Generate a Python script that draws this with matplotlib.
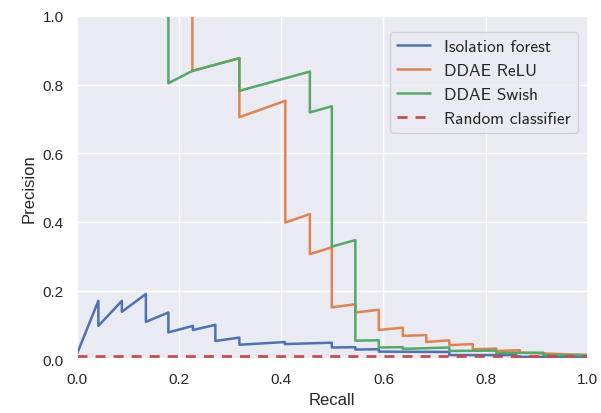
import matplotlib
matplotlib.use("Agg")
import matplotlib.pyplot as plt
import seaborn as sns

sns.set_theme(style="darkgrid")
plt.rcParams['font.family'] = ['Liberation Sans', 'DejaVu Sans']

# Isolation forest
iso_recall = [0.0, 0.042, 0.042, 0.088, 0.088, 0.135, 0.135, 0.179, 0.179, 0.227, 0.227,
              0.271, 0.271, 0.318, 0.318, 0.407, 0.407, 0.499, 0.499, 0.545, 0.545,
              0.591, 0.591, 0.729, 0.729, 0.86, 0.86, 1.0]
iso_prec = [0.015, 0.17, 0.097, 0.17, 0.138, 0.19, 0.109, 0.136, 0.078, 0.097, 0.085,
            0.10, 0.053, 0.063, 0.042, 0.05, 0.044, 0.048, 0.034, 0.035, 0.028,
            0.029, 0.022, 0.021, 0.012, 0.012, 0.007, 0.006]

# DDAE ReLU
relu_recall = [0.226, 0.226, 0.318, 0.318, 0.408, 0.408, 0.456, 0.456, 0.499, 0.499,
               0.545, 0.545, 0.591, 0.591, 0.638, 0.638, 0.684, 0.684, 0.729, 0.729,
               0.775, 0.775, 0.821, 0.821, 0.867, 0.867, 1.0]
relu_prec = [1.0, 0.84, 0.877, 0.705, 0.753, 0.398, 0.423, 0.306, 0.326, 0.151,
             0.160, 0.136, 0.144, 0.085, 0.092, 0.068, 0.070, 0.050, 0.055, 0.041,
             0.044, 0.029, 0.031, 0.024, 0.026, 0.019, 0.012]

# DDAE Swish
swish_recall = [0.179, 0.179, 0.226, 0.318, 0.318, 0.456, 0.456, 0.499, 0.499, 0.545,
                0.545, 0.591, 0.591, 0.638, 0.638, 0.729, 0.729, 0.821, 0.821, 0.913,
                0.913, 1.0]
swish_prec = [1.0, 0.804, 0.84, 0.877, 0.782, 0.838, 0.719, 0.737, 0.328, 0.347,
              0.054, 0.055, 0.034, 0.035, 0.030, 0.034, 0.024, 0.025, 0.018, 0.019,
              0.012, 0.012]

random_level = 0.01

fig = plt.figure(figsize=(6.01, 4.14), dpi=100)
ax = fig.add_axes([0.128, 0.130, 0.850, 0.829])

ax.plot(iso_recall, iso_prec, lw=1.8, label="Isolation forest")
ax.plot(relu_recall, relu_prec, lw=1.8, label="DDAE ReLU")
ax.plot(swish_recall, swish_prec, lw=1.8, label="DDAE Swish")
ax.plot([0, 1], [random_level, random_level], lw=2.0, dashes=(3.6, 2.9),
        label="Random classifier")

ax.set_xlim(0, 1)
ax.set_ylim(0, 1)
ax.set_xlabel("Recall", fontsize=12)
ax.set_ylabel("Precision", fontsize=12)
ax.tick_params(labelsize=11)
ax.legend(loc="upper right", prop={'family': 'cmss10', 'size': 12.5},
          handlelength=1.9, bbox_to_anchor=(0.997, 0.978))

fig.savefig("out.png", dpi=100)
